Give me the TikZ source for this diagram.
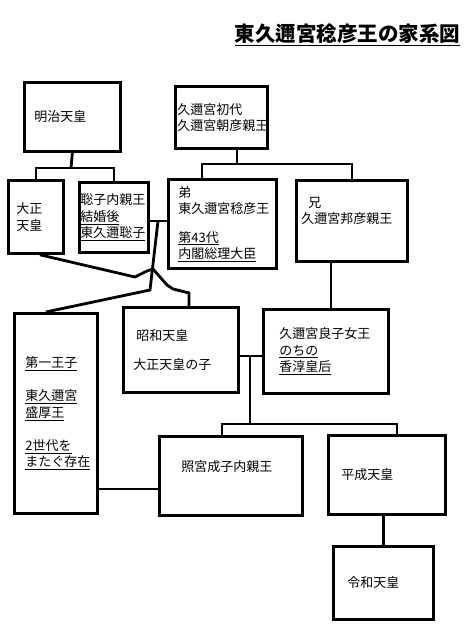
\documentclass[tikz,border=0pt]{standalone}
\usepackage{fontspec}
\setmainfont{Noto Sans CJK JP}
\usetikzlibrary{calc}

\begin{document}
\begin{tikzpicture}[x=1pt, y=-1pt,
  box/.style={draw, line width=2.8pt, anchor=north west, align=left, inner ysep=0pt, font=\fontsize{13}{16.5}\selectfont},
  link/.style={line width=2.8pt},
  heading/.style={font=\fontsize{20.5}{24}\selectfont\bfseries}
]
\useasboundingbox (0,0) rectangle (474,628);

\node[heading] (title) at (347.5,35) {\underline{東久邇宮稔彦王の家系図}};

\node[box, text width=76pt, inner xsep=10pt, minimum height=69pt] (meiji) at (23,81) {明治天皇};
\node[box, text width=88pt, inner xsep=2pt, minimum height=62pt] (kuni) at (174,85) {久邇宮初代\\久邇宮朝彦親王};
\node[box, text width=39pt, inner xsep=8pt, minimum height=73pt] (taisho) at (7,179) {大正\\天皇};
\node[box, text width=67pt, inner xsep=1pt, minimum height=70pt] (satoko) at (78,181) {聡子内親王\\\underline{結婚後}\\\underline{東久邇聡子}};
\node[box, text width=88pt, inner xsep=10pt, minimum height=89pt] (naruhiko) at (167,178) {弟\\東久邇宮稔彦王\\[12pt]\underline{第43代}\\\underline{内閣総理大臣}};
\node[box, text width=101pt, inner xsep=5pt] (kuniyoshi) at (295,179) {\rule{0pt}{27pt}\hspace{7pt}兄\\久邇宮邦彦親王\rule[-37.5pt]{0pt}{0pt}};

\node[box, text width=61pt, inner xsep=11pt, minimum height=200pt] (morihiro) at (13,312) {\underline{第一王子}\\[16.5pt]\underline{東久邇宮}\\\underline{盛厚王}\\[16.5pt]\underline{2世代を}\\\underline{またぐ存在}};
\node[box, text width=95pt, inner xsep=10pt, minimum height=85pt] (showa) at (122,306) {\hspace{3pt}昭和天皇\\[12pt]大正天皇の子};
\node[box, text width=93pt, inner xsep=16pt, minimum height=84pt] (nagako) at (262,308) {久邇宮良子女王\\\underline{のちの}\\\underline{香淳皇后}};
\node[box, text width=99pt, inner xsep=22pt] (teru) at (158,435) {\rule[-44pt]{0pt}{79pt}照宮成子内親王};
\node[box, text width=91pt, inner xsep=13pt, minimum height=79pt] (heisei) at (327,434) {平成天皇};
\node[box, text width=72pt, inner xsep=14pt, minimum height=73pt] (reiwa) at (332,545) {令和天皇};

\coordinate (mj) at (71,168);
\draw[link] (meiji.south) -- (mj);
\draw[link] (taisho.north) |- (mj) -| (satoko.north);

\coordinate (kj) at (237,164);
\draw[link] (kj |- kuni.south) -- (kj);
\draw[link] ([xshift=35pt]naruhiko.north west) |- (kj) -| (kuniyoshi.north);

\coordinate (sj) at (158,221);
\draw[link] (satoko.east |- sj) -- (naruhiko.west |- sj);
\draw[link] (sj) -- (150,290) -- ([xshift=-10pt]morihiro.north);

\coordinate (tb) at (189,293);
\draw[link] ([xshift=4pt]taisho.south) -- (135,277) -- (147,271) -- (153,269) -- (167,285) -- (173,289) -- (tb) -- (tb |- showa.north);

\coordinate (kn) at (331,0);
\draw[link] (kuniyoshi.south -| kn) -- (nagako.north -| kn);

\coordinate (wj) at (250,356);
\coordinate (cj) at (250,424);
\draw[link] (showa.east |- wj) -- (nagako.west |- wj);
\draw[link] (wj) -- (cj);
\draw[link] ([xshift=-9pt]teru.north) |- (cj) -| ([xshift=10pt]heisei.north);

\coordinate (mt) at (0,489);
\draw[link] (morihiro.east |- mt) -- (teru.west |- mt);
\draw[link] (heisei.south -| reiwa.north) -- (reiwa.north);

\end{tikzpicture}
\end{document}
